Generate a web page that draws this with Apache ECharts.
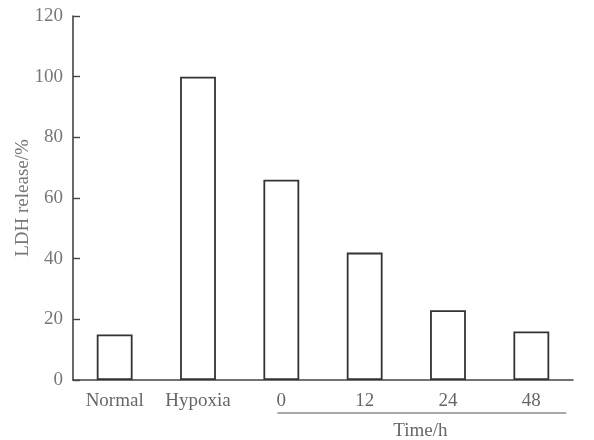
<!DOCTYPE html>
<html><head><meta charset="utf-8">
<script src="https://cdn.jsdelivr.net/npm/echarts@6/dist/echarts.min.js"></script>
<style>html,body{margin:0;padding:0;background:#fff}#c{width:594px;height:440px}</style>
</head><body><div id="c"></div>
<script>
const categories = ['Normal','Hypoxia','0','12','24','48'];
const ldhRelease = [15, 100, 66, 42, 23, 16];
const yTicks = [0,20,40,60,80,100,120];
const groupLabel = 'Time/h';
const yName = 'LDH release/%';

const chart = echarts.init(document.getElementById('c'));
const font = '"Liberation Serif", "DejaVu Serif", serif';
chart.setOption({
  backgroundColor: '#fff',
  animation: false,
  grid: {left: 73, right: 21, top: 16, bottom: 60, containLabel: false, outerBoundsMode: 'none'},
  xAxis: {
    type: 'category', data: categories,
    axisLine: {lineStyle: {color: '#444', width: 1.6}},
    axisTick: {inside: true, length: 4, lineStyle: {color: '#555', width: 1.2}},
    axisLabel: {color: '#666', fontFamily: font, fontSize: 19, margin: 12, interval: 0, hideOverlap: false}
  },
  yAxis: {
    type: 'value', min: yTicks[0], max: yTicks[yTicks.length-1], interval: 20,
    name: yName, nameLocation: 'middle', nameGap: 40, nameMoveOverlap: false,
    nameTextStyle: {color: '#777', fontFamily: font, fontSize: 19},
    splitLine: {show: false},
    axisLine: {show: true, lineStyle: {color: '#444', width: 1.6}},
    axisTick: {show: true, inside: true, length: 7, lineStyle: {color: '#444', width: 1.4}},
    axisLabel: {color: '#777', fontFamily: font, fontSize: 19, margin: 10}
  },
  series: [{
    type: 'bar', data: ldhRelease, barWidth: '43%',
    itemStyle: {color: '#fff', borderColor: '#333', borderWidth: 1.8}
  }]
});
// group line under time labels
const pStart = chart.convertToPixel({xAxisIndex: 0}, categories[2]);
const pEnd = chart.convertToPixel({xAxisIndex: 0}, categories[5]);
const y0 = chart.convertToPixel({yAxisIndex: 0}, 0);
chart.setOption({
  graphic: [
    {type: 'line', shape: {x1: pStart - 4, y1: y0 + 33, x2: pEnd + 35, y2: y0 + 33},
     style: {stroke: '#555', lineWidth: 1.2}},
    {type: 'text', x: (pStart + pEnd) / 2 + 14, y: y0 + 51,
     style: {text: groupLabel, fill: '#666', font: '19px ' + font, textAlign: 'center', textVerticalAlign: 'middle'}}
  ]
});
</script></body></html>
